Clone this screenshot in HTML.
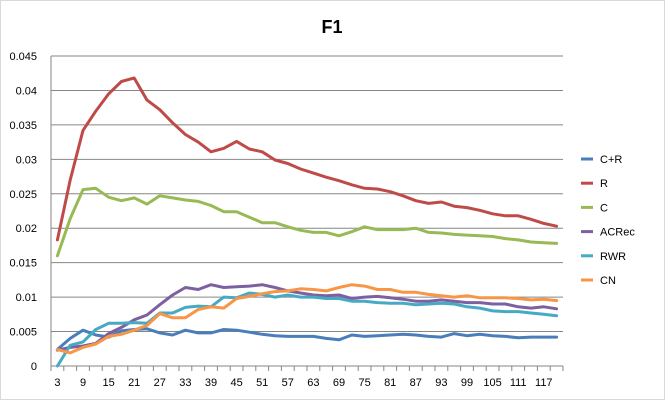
<!DOCTYPE html>
<html><head><meta charset="utf-8"><style>
html,body{margin:0;padding:0;background:#fff;}
svg{display:block;font-family:"Liberation Sans",Arial,sans-serif;}
</style></head><body>
<svg id="chart" width="665" height="400" viewBox="0 0 665 400" xmlns="http://www.w3.org/2000/svg">
<rect x="0.5" y="0.5" width="664" height="399" fill="#fff" stroke="#d9d9d9"/>
<text x="332" y="33" text-anchor="middle" font-size="18" font-weight="bold" fill="#000">F1</text>
<g id="grid"></g><g id="axes"></g><g id="series"></g><g id="legend"></g>
</svg>
<script>
const categories = [];
for (let c = 3; c <= 120; c += 3) categories.push(c);
const yTicks = [0,0.005,0.01,0.015,0.02,0.025,0.03,0.035,0.04,0.045];
const yTickLabels = ["0","0.005","0.01","0.015","0.02","0.025","0.03","0.035","0.04","0.045"];
const seriesNames = ["C+R","R","C","ACRec","RWR","CN"];
const seriesColors = ["#4a7ebb","#be4b48","#98b954","#7d60a0","#46aac5","#f79646"];
const valsCR = [0.0024,0.004,0.0052,0.0045,0.0042,0.0051,0.0053,0.0054,0.0048,0.0045,0.0052,0.0048,0.0048,0.0053,0.0052,0.0049,0.0046,0.0044,0.0043,0.0043,0.0043,0.004,0.0038,0.0045,0.0043,0.0044,0.0045,0.0046,0.0045,0.0043,0.0042,0.0047,0.0044,0.0046,0.0044,0.0043,0.0041,0.0042,0.0042,0.0042];
const valsR = [0.0183,0.027,0.0342,0.037,0.0395,0.0413,0.0418,0.0386,0.0372,0.0353,0.0336,0.0325,0.0311,0.0316,0.0326,0.0315,0.0311,0.0299,0.0294,0.0286,0.028,0.0274,0.0269,0.0263,0.0258,0.0257,0.0253,0.0247,0.024,0.0236,0.0238,0.0232,0.023,0.0226,0.0221,0.0218,0.0218,0.0213,0.0207,0.0203];
const valsC = [0.016,0.0214,0.0256,0.0258,0.0245,0.024,0.0244,0.0235,0.0247,0.0244,0.0241,0.0239,0.0233,0.0224,0.0224,0.0216,0.0208,0.0208,0.0202,0.0197,0.0194,0.0194,0.0189,0.0195,0.0202,0.0198,0.0198,0.0198,0.02,0.0194,0.0193,0.0191,0.019,0.0189,0.0188,0.0185,0.0183,0.018,0.0179,0.0178];
const valsACRec = [0.0023,0.0027,0.0029,0.0033,0.0047,0.0056,0.0067,0.0074,0.0089,0.0103,0.0114,0.0111,0.0118,0.0114,0.0115,0.0116,0.0118,0.0114,0.0109,0.0106,0.0103,0.0102,0.0103,0.0098,0.01,0.0101,0.0099,0.0097,0.0094,0.0094,0.0096,0.0094,0.0092,0.0092,0.009,0.009,0.0086,0.0084,0.0086,0.0083];
const valsRWR = [0,0.003,0.0035,0.0053,0.0062,0.0062,0.0063,0.0062,0.0077,0.0077,0.0085,0.0087,0.0086,0.01,0.0099,0.0106,0.0104,0.01,0.0103,0.01,0.01,0.0098,0.0098,0.0094,0.0094,0.0092,0.0091,0.0091,0.0089,0.009,0.0091,0.009,0.0086,0.0084,0.008,0.0079,0.0079,0.0077,0.0075,0.0073];
const valsCN = [0.0024,0.0019,0.0027,0.0032,0.0043,0.0046,0.0052,0.0059,0.0076,0.007,0.007,0.0082,0.0086,0.0084,0.0098,0.0101,0.0105,0.0108,0.0109,0.0112,0.0111,0.0109,0.0114,0.0118,0.0116,0.0111,0.0111,0.0107,0.0107,0.0104,0.0102,0.01,0.0102,0.0099,0.0099,0.0099,0.0098,0.0096,0.0097,0.0095];
const seriesValues = [valsCR,valsR,valsC,valsACRec,valsRWR,valsCN];

const NS="http://www.w3.org/2000/svg";
const L=51,R=563,T=56,B=366,YMAX=0.045;
const bw=(R-L)/categories.length;
function xPos(i){return L+(i+0.5)*bw;}
function yPos(v){return B-(v/YMAX)*(B-T);}
function mk(tag,attrs,parent){const e=document.createElementNS(NS,tag);for(const k in attrs)e.setAttribute(k,attrs[k]);parent.appendChild(e);return e;}
const grid=document.getElementById('grid'),axes=document.getElementById('axes'),ser=document.getElementById('series'),leg=document.getElementById('legend');
yTicks.forEach((t,i)=>{
  const y=yPos(t);
  if(i>0){const g=mk('line',{x1:L,x2:R,y1:y,y2:y,stroke:'#868686','stroke-width':1},grid);
  
  }
  const tx=mk('text',{x:37,y:y+4,'text-anchor':'end','font-size':11,fill:'#000'},axes);
  tx.textContent=yTickLabels[i];
  
  
});
const ya=mk('line',{x1:L,x2:L,y1:T,y2:B,stroke:'#868686'},axes);


const xa=mk('line',{x1:L,x2:R,y1:B,y2:B,stroke:'#868686'},axes);


for(let i=0;i<=categories.length;i++){
  const x=L+i*bw;
  const tk=mk('line',{x1:x,x2:x,y1:B,y2:B+5,stroke:'#868686'},axes);
  
  
}
categories.forEach((c,i)=>{
  if(i%2!==0)return;
  const tx=mk('text',{x:xPos(i),y:B+20,'text-anchor':'middle','font-size':11,fill:'#000'},axes);
  tx.textContent=String(c);
  
  
});
seriesValues.forEach((vals,s)=>{
  const pts=vals.map((v,i)=>xPos(i).toFixed(1)+','+yPos(v).toFixed(1)).join(' ');
  const p=mk('polyline',{points:pts,fill:'none',stroke:seriesColors[s],'stroke-width':3,'stroke-linejoin':'round','stroke-linecap':'round'},ser);
  
  
  const ly=159+s*24.2;
  const m=mk('line',{x1:581,x2:593,y1:ly,y2:ly,stroke:seriesColors[s],'stroke-width':3},leg);
  
  
  const t=mk('text',{x:600,y:ly+4,'font-size':11,fill:'#000'},leg);
  t.textContent=seriesNames[s];
  
  
});
</script>
</body></html>
